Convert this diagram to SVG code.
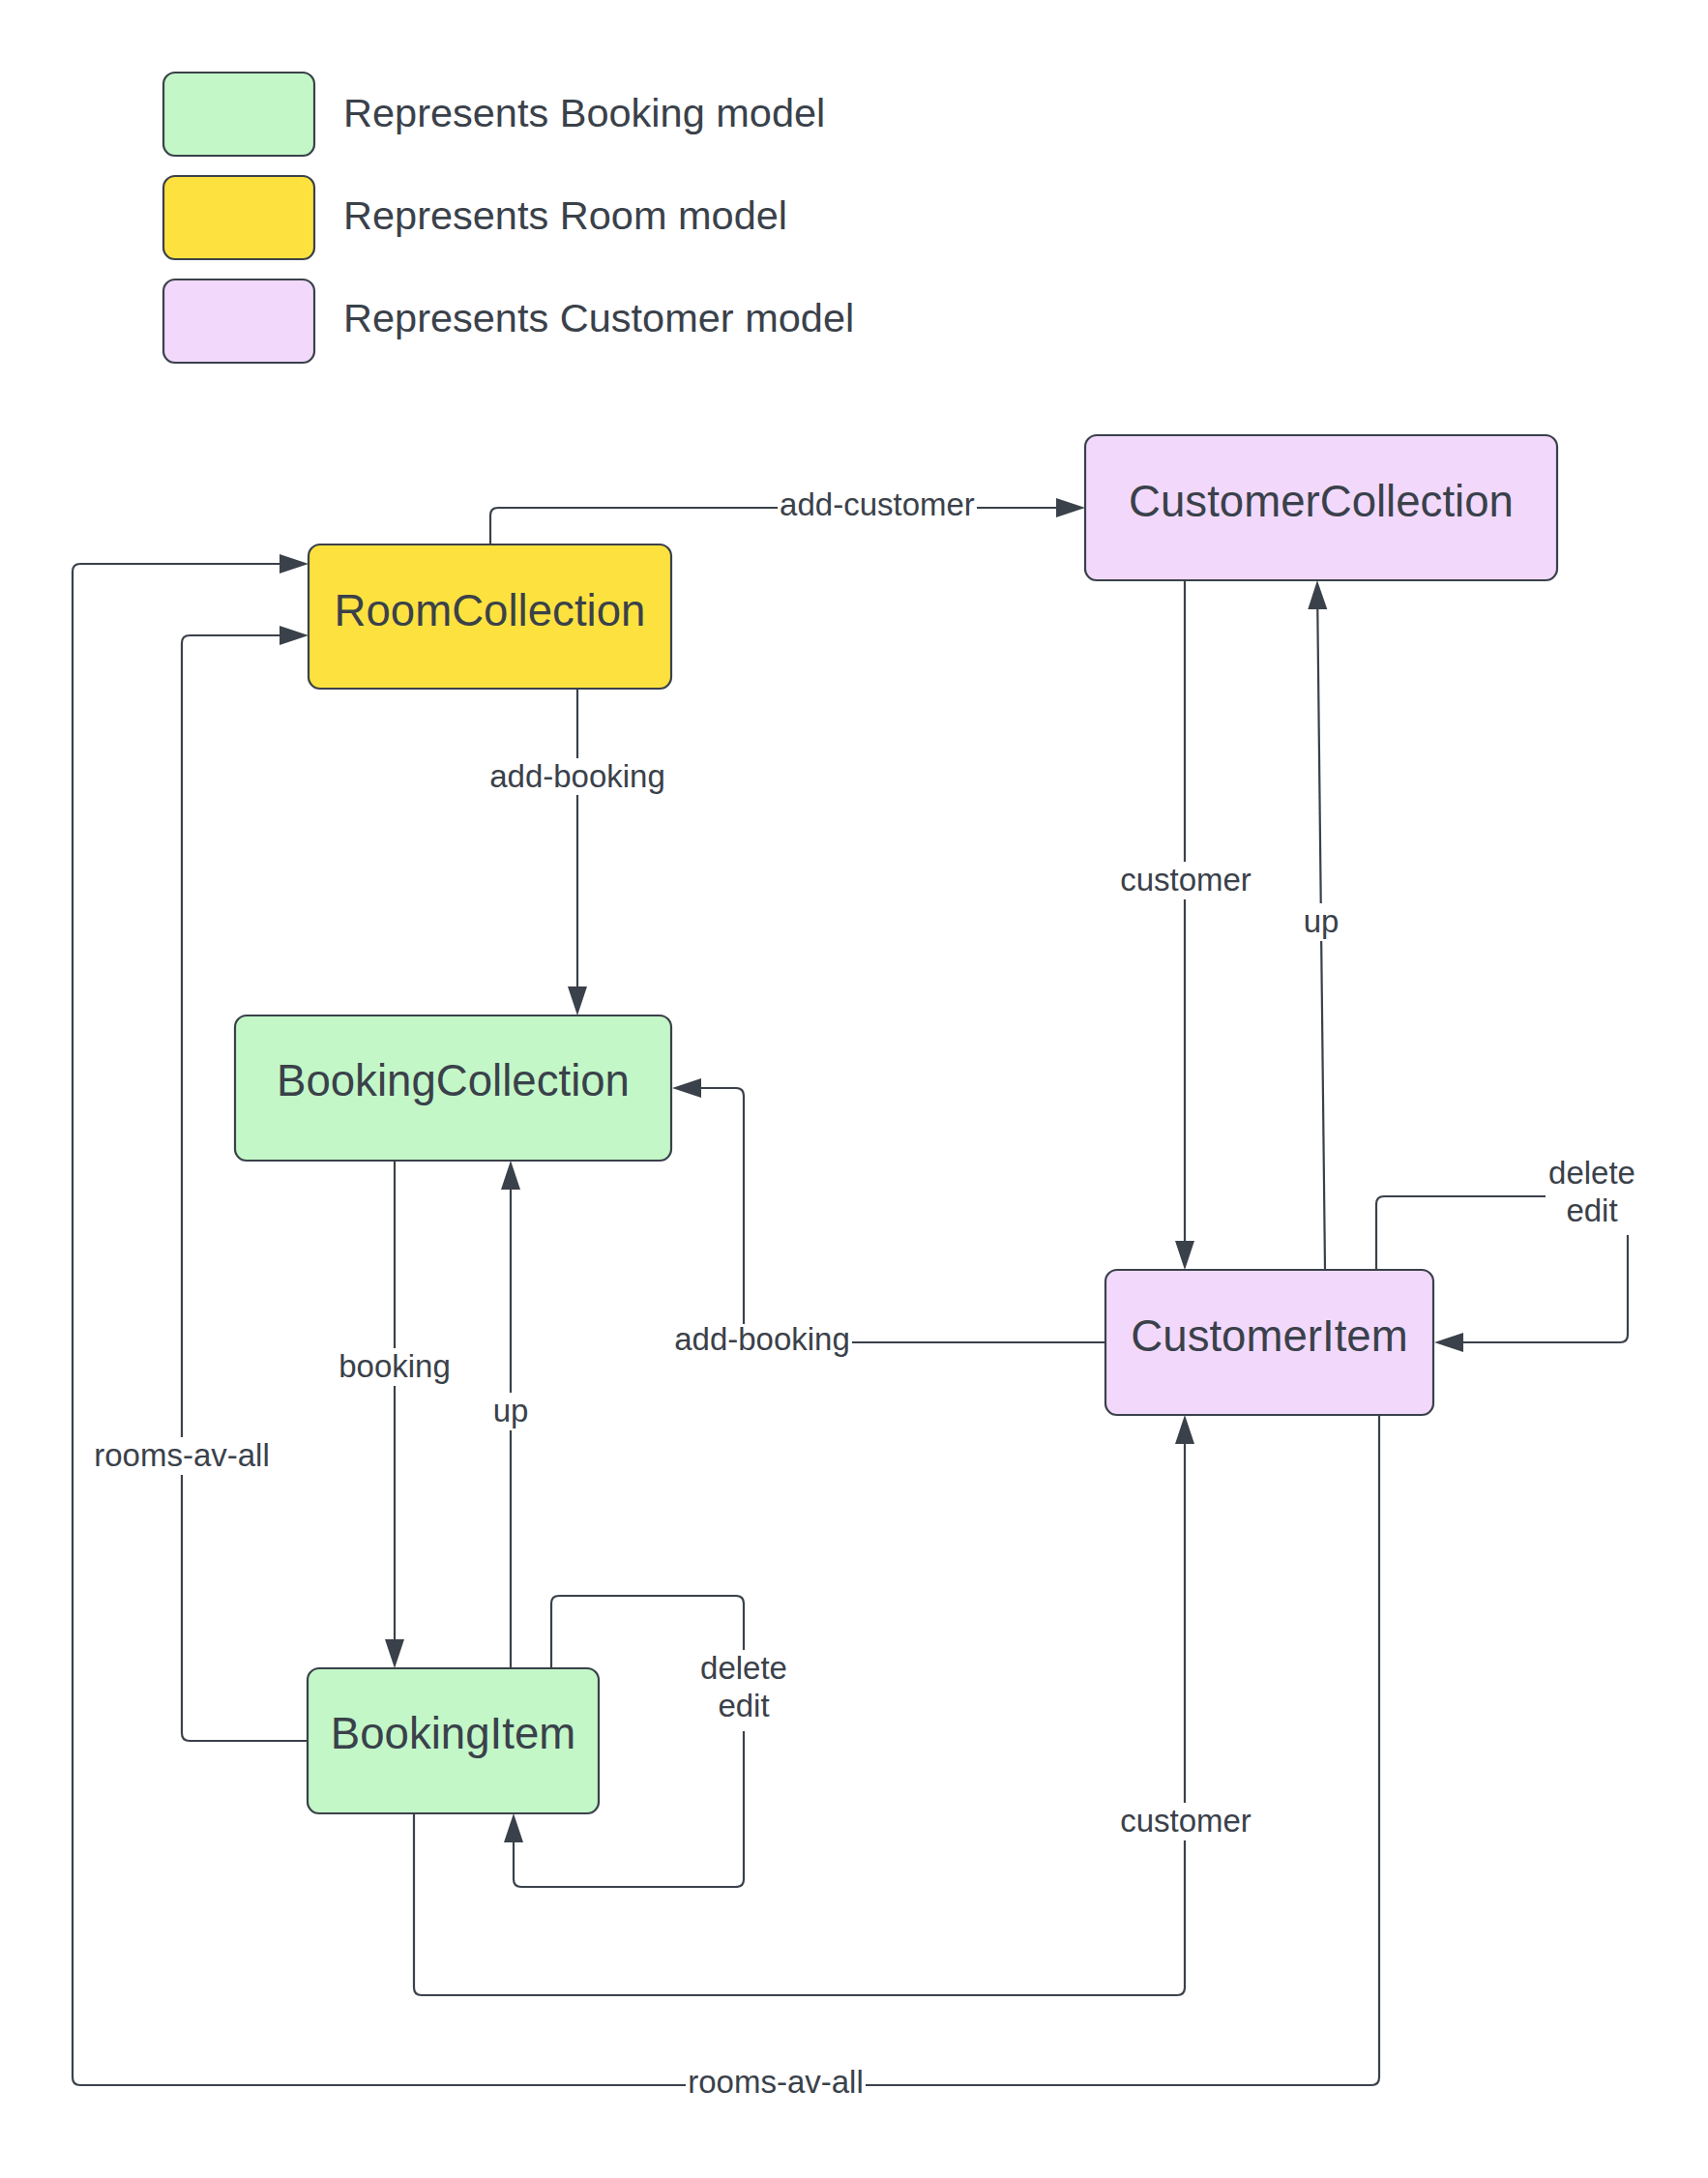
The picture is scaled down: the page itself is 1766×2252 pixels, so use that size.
<svg xmlns="http://www.w3.org/2000/svg" width="1766" height="2252" viewBox="0 0 1766 2252">
<style>
.box{stroke:#3a414a;stroke-width:2.2}
.green{fill:#c3f7c8}
.yellow{fill:#fde23f}
.purple{fill:#f2d9fc}
.legend{font-family:"Liberation Sans",Arial,sans-serif;font-size:41.5px;fill:#3a414a}
.ntext{font-family:"Liberation Sans",Arial,sans-serif;font-size:45.6px;fill:#3a414a;text-anchor:middle}
.conn path{fill:none;stroke:#3a414a;stroke-width:2.2;marker-end:url(#arr)}
.lbg{fill:#ffffff}
.lbl{font-family:"Liberation Sans",Arial,sans-serif;font-size:33px;fill:#3a414a;text-anchor:middle}
</style>
<defs>
<marker id="arr" markerUnits="userSpaceOnUse" markerWidth="32" markerHeight="22" viewBox="0 -11 31 22" refX="0" refY="0" orient="auto">
<path d="M0,-10 L30,0 L0,10 z" fill="#3a414a"/>
</marker>
</defs>
<rect width="1766" height="2252" fill="#ffffff"/>

<g id="legend">
<g id="legend-booking"><rect class="box green" x="169" y="75" width="156" height="86" rx="12"/><text class="legend" x="355" y="131">Represents Booking model</text></g>
<g id="legend-room"><rect class="box yellow" x="169" y="182" width="156" height="86" rx="12"/><text class="legend" x="355" y="237">Represents Room model</text></g>
<g id="legend-customer"><rect class="box purple" x="169" y="289" width="156" height="86" rx="12"/><text class="legend" x="355" y="343">Represents Customer model</text></g>
</g>

<g id="connectors" class="conn">
<path d="M507,563 V533 Q507,525 515,525 H1092"/>
<path d="M597,712 V1020"/>
<path d="M1225,600 V1283"/>
<path d="M1370,1313 L1362.3,630"/>
<path d="M408,1200 V1695"/>
<path d="M528,1725 V1230"/>
<path d="M318,1800 H196 Q188,1800 188,1792 V665 Q188,657 196,657 H289"/>
<path d="M1426,1463 V2148 Q1426,2156 1418,2156 H83 Q75,2156 75,2148 V591 Q75,583 83,583 H289"/>
<path d="M428,1875 V2055 Q428,2063 436,2063 H1217 Q1225,2063 1225,2055 V1493"/>
<path d="M1143,1388 H777 Q769,1388 769,1380 V1133 Q769,1125 761,1125 H725"/>
<path d="M1423,1313 V1245 Q1423,1237 1431,1237 H1675 Q1683,1237 1683,1245 V1380 Q1683,1388 1675,1388 H1513"/>
<path d="M570,1725 V1658 Q570,1650 578,1650 H761 Q769,1650 769,1658 V1943 Q769,1951 761,1951 H539 Q531,1951 531,1943 V1905"/>
</g>

<g id="labels">
<rect class="lbg" x="804" y="506" width="206" height="38"/><text class="lbl" x="907" y="533">add-customer</text>
<rect class="lbg" x="504" y="784" width="186" height="38"/><text class="lbl" x="597" y="814">add-booking</text>
<rect class="lbg" x="1156" y="891" width="140" height="39"/><text class="lbl" x="1226" y="921">customer</text>
<rect class="lbg" x="1346" y="934" width="41" height="39"/><text class="lbl" x="1366" y="964">up</text>
<rect class="lbg" x="348" y="1394" width="120" height="39"/><text class="lbl" x="408" y="1424">booking</text>
<rect class="lbg" x="508" y="1440" width="41" height="39"/><text class="lbl" x="528" y="1470">up</text>
<rect class="lbg" x="96" y="1486" width="185" height="39"/><text class="lbl" x="188" y="1516">rooms-av-all</text>
<rect class="lbg" x="695" y="1369" width="186" height="38"/><text class="lbl" x="788" y="1396">add-booking</text>
<rect class="lbg" x="1156" y="1864" width="140" height="39"/><text class="lbl" x="1226" y="1894">customer</text>
<rect class="lbg" x="709" y="2137" width="186" height="38"/><text class="lbl" x="802" y="2164">rooms-av-all</text>
<rect class="lbg" x="1598" y="1193" width="96" height="84"/><text class="lbl" x="1646" y="1224">delete</text><text class="lbl" x="1646" y="1263">edit</text>
<rect class="lbg" x="722" y="1706" width="94" height="84"/><text class="lbl" x="769" y="1736">delete</text><text class="lbl" x="769" y="1775">edit</text>
</g>

<g id="RoomCollection"><rect class="box yellow" x="319" y="563" width="375" height="149" rx="12"/><text class="ntext" x="506.5" y="646.7">RoomCollection</text></g>
<g id="CustomerCollection"><rect class="box purple" x="1122" y="450" width="488" height="150" rx="12"/><text class="ntext" x="1366" y="534">CustomerCollection</text></g>
<g id="BookingCollection"><rect class="box green" x="243" y="1050" width="451" height="150" rx="12"/><text class="ntext" x="468.5" y="1133.3">BookingCollection</text></g>
<g id="CustomerItem"><rect class="box purple" x="1143" y="1313" width="339" height="150" rx="12"/><text class="ntext" x="1312.5" y="1396.7">CustomerItem</text></g>
<g id="BookingItem"><rect class="box green" x="318" y="1725" width="301" height="150" rx="12"/><text class="ntext" x="468.5" y="1808.3">BookingItem</text></g>
</svg>
